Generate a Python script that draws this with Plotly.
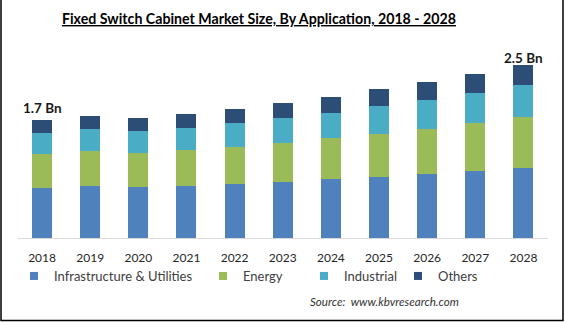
import plotly.graph_objects as go

W, H = 565, 322

years = ["2018", "2019", "2020", "2021", "2022", "2023",
         "2024", "2025", "2026", "2027", "2028"]
infrastructure = [0.72, 0.75, 0.735, 0.75, 0.78, 0.81, 0.85, 0.88, 0.92, 0.97, 1.01]
energy = [0.49, 0.50, 0.49, 0.52, 0.53, 0.56, 0.59, 0.62, 0.65, 0.69, 0.74]
industrial = [0.30, 0.32, 0.32, 0.32, 0.35, 0.36, 0.37, 0.40, 0.42, 0.43, 0.46]
others = [0.19, 0.19, 0.19, 0.20, 0.20, 0.22, 0.23, 0.245, 0.26, 0.27, 0.29]

series = [
    ("Infrastructure & Utilities", infrastructure, "#4F81BD"),
    ("Energy", energy, "#9BBB59"),
    ("Industrial", industrial, "#4BACC6"),
    ("Others", others, "#2C4D75"),
]

FONT = "Lato"


def px_x(p):
    return p / W


def px_y(p):
    return (H - p) / H


fig = go.Figure()

legend_names = ["legend", "legend2", "legend3", "legend4"]
for (name, vals, color), lg in zip(series, legend_names):
    fig.add_trace(go.Bar(
        x=years, y=vals, name=name, marker_color=color,
        marker_line_width=0, showlegend=False,
    ))
    # compact square swatch for the legend entry
    fig.add_trace(go.Scatter(
        x=[years[0]], y=[None], mode="markers", name=name,
        marker=dict(symbol="square", size=8, color=color),
        legend=lg, showlegend=True, hoverinfo="skip",
    ))

# total labels above the first and last bars (x given as category index)
totals = [sum(v) for v in zip(infrastructure, energy, industrial, others)]
for i, shift in ((0, 2), (len(years) - 1, -3)):
    fig.add_annotation(
        x=i, y=totals[i], xref="x", yref="y",
        text=f"<b>{totals[i]:.1f} Bn</b>", showarrow=False,
        yanchor="bottom", yshift=shift,
        font=dict(family=FONT, size=13.5, color="#1a1a1a"),
    )

fig.add_annotation(
    x=px_x(259), y=px_y(18), xref="paper", yref="paper",
    text="<b><u>Fixed Switch Cabinet Market Size, By Application, 2018 - 2028</u></b>",
    showarrow=False, xanchor="center", yanchor="middle",
    font=dict(family=FONT, size=14.2, color="#000000"),
)

fig.add_annotation(
    x=px_x(308), y=px_y(301), xref="paper", yref="paper",
    text="<i>Source:  www.kbvresearch.com</i>", showarrow=False,
    xanchor="left", yanchor="middle",
    font=dict(family=FONT, size=11.6, color="#333333"),
)

# outer frame on left, right and bottom edges
fig.add_shape(type="path", xref="paper", yref="paper",
              path=f"M {px_x(1)} {px_y(0)} L {px_x(1)} {px_y(320.5)} "
                   f"L {px_x(563)} {px_y(320.5)} L {px_x(563)} {px_y(0)}",
              line=dict(color="#000000", width=1.5))

legend_text_x = [54, 243, 344, 438]
legend_style = dict(
    orientation="h", yanchor="middle", xanchor="left",
    y=px_y(276), bgcolor="rgba(0,0,0,0)", borderwidth=0,
    font=dict(family=FONT, size=13, color="#404040"),
    itemwidth=30,
)
layout_legends = {}
for lg, tx in zip(legend_names, legend_text_x):
    layout_legends[lg] = dict(legend_style, x=px_x(tx - 40))

fig.update_layout(
    width=W, height=H, autosize=False,
    margin=dict(l=0, r=0, t=0, b=0),
    paper_bgcolor="#FFFFFF", plot_bgcolor="#FFFFFF",
    barmode="stack", bargap=0.585,
    xaxis=dict(
        domain=[px_x(18), px_x(547.5)], type="category",
        categoryorder="array", categoryarray=years,
        range=[-0.5, len(years) - 0.5],
        showline=True, linecolor="#D9D9D9", linewidth=1,
        showgrid=False, ticks="", zeroline=False,
        ticklabelstandoff=9,
        tickfont=dict(family=FONT, size=12, color="#262626"),
    ),
    yaxis=dict(
        domain=[px_y(238), px_y(30)], range=[0, 3],
        visible=False, showgrid=False, zeroline=False,
    ),
    **layout_legends,
)

fig.write_html("out.html")
